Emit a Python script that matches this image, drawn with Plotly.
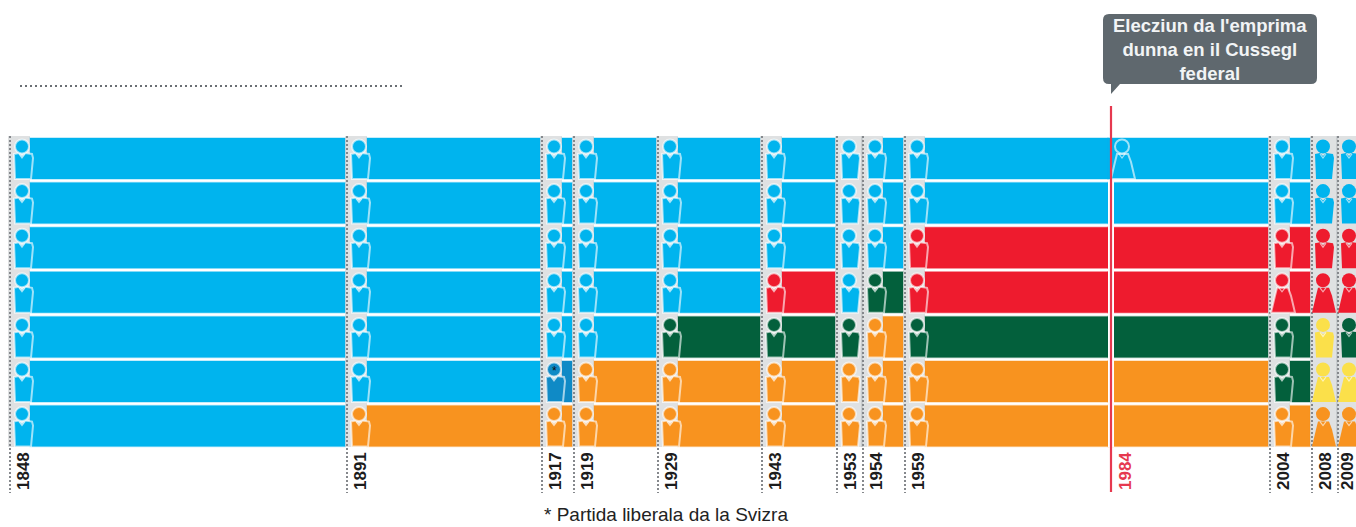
import plotly.graph_objects as go

W, H = 1356, 527

# Elections, and where each one sits on the (non-linear) time axis of the graphic
elections = [1848, 1891, 1917, 1919, 1929, 1943, 1953, 1954, 1959, 1984, 2004, 2008, 2009]
axis_pos = [10, 347, 542, 574, 658, 762, 837, 863, 905, 1108, 1270, 1312, 1338]

# Party of each of the seven seats at each election (seat 0 = top row)
seat_0 = ["PLR"] * 13
seat_1 = ["PLR"] * 13
seat_2 = ["PLR"] * 8 + ["PS"] * 5
seat_3 = ["PLR"] * 5 + ["PS", "PLR", "PES"] + ["PS"] * 5
seat_4 = ["PLR"] * 4 + ["PES", "PES", "PES", "PCD", "PES", "PES", "PES", "PBD", "PES"]
seat_5 = ["PLR", "PLR", "LIB"] + ["PCD"] * 7 + ["PES", "PBD", "PBD"]
seat_6 = ["PLR"] + ["PCD"] * 12
seats = [seat_0, seat_1, seat_2, seat_3, seat_4, seat_5, seat_6]

party_colors = {
    "PLR": "#00b4ee",
    "LIB": "#0f8ac6",
    "PS": "#ee1b2e",
    "PES": "#03603c",
    "PCD": "#f8931f",
    "PBD": "#fbe04a",
}

# (election, seat) of the women drawn in the graphic
women = {(1984, 0), (2004, 3), (2008, 3), (2008, 5), (2008, 6), (2009, 3), (2009, 5), (2009, 6)}
# Only this seat gets a figure at the 1984 break
partial_figures = {1984: [0]}
borderless_years = {2008, 2009}

callout_text = "<b>Elecziun da l'emprima<br>dunna en il Cussegl<br>federal</b>"
footnote_text = "* Partida liberala da la Svizra"

# Row geometry (pixels)
ROW_C0, PITCH, ROW_H = 158.5, 44.6, 41
FONT = "Liberation Sans, Arial"
RED_TEXT = "#e6394f"


def py(p):
    return 1 - p / H


def row_y(row, dy=0.0):
    return row + dy / PITCH


def tint(hex_color, alpha):
    h = hex_color.lstrip("#")
    return f"rgba({int(h[:2], 16)},{int(h[2:4], 16)},{int(h[4:], 16)},{alpha})"


fig = go.Figure()

# Bars: one trace per party
for party, color in party_colors.items():
    ys, bases, widths = [], [], []
    for r, seat in enumerate(seats):
        for i, p in enumerate(seat):
            if p != party:
                continue
            start = axis_pos[i] + (0 if elections[i] == 1984 else 20)
            if i + 1 == len(axis_pos):
                end = W + 5
            elif elections[i + 1] == 1984:
                end = axis_pos[i + 1]
            else:
                end = axis_pos[i + 1] - 2
            if end - start < 6:
                continue
            ys.append(r)
            bases.append(start)
            widths.append(end - start)
    fig.add_trace(go.Bar(
        y=ys, x=widths, base=bases, orientation="h", width=ROW_H / PITCH,
        marker=dict(color=color, line=dict(color=tint(color, 0.3), width=1.5)),
        hoverinfo="skip", showlegend=False, name=party,
    ))

shapes = []

# Grey bands and dotted lines at each election
for i, (year, x) in enumerate(zip(elections, axis_pos)):
    if year == 1984:
        continue
    next_x = axis_pos[i + 1] if i + 1 < len(axis_pos) else W
    band_end = next_x if next_x - x < 30 else x + 20
    shapes.append(dict(type="rect", xref="x", yref="paper", x0=x - 2, x1=band_end,
                       y0=py(136), y1=py(447), fillcolor="rgba(150,155,160,0.3)",
                       line=dict(width=0), layer="above"))
    shapes.append(dict(type="line", xref="x", yref="paper", x0=x, x1=x, y0=py(136), y1=py(493),
                       line=dict(color="#85888c", width=2, dash="2px,2px")))


def person(x, row, color, woman, outlined):
    cx = x + 12
    top = -ROW_H / 2
    if woman:
        pts = [(-5, 16), (6, 16), (9, 24), (13, 41), (-11, 41), (-7, 24)]
    else:
        pts = [(-8, 16), (-3, 15), (0, 18), (3, 15), (10, 16), (11, 20), (9, 41), (-7, 41)]
    path = "M " + " L ".join(f"{cx + a},{row_y(row, top + b)}" for a, b in pts) + " Z"
    edge = dict(color="rgba(255,255,255,0.62)", width=2) if outlined else dict(width=0)
    out = [
        dict(type="path", xref="x", yref="y", path=path, fillcolor=color, line=edge),
        dict(type="circle", xref="x", yref="y", x0=cx - 7, x1=cx + 7,
             y0=row_y(row, top + 1.5), y1=row_y(row, top + 15.5), fillcolor=color, line=edge),
    ]
    vee = (f"M {cx - 3},{row_y(row, top + 16)} L {cx},{row_y(row, top + 20)} "
           f"L {cx + 3},{row_y(row, top + 16)}")
    out.append(dict(type="path", xref="x", yref="y", path=vee,
                    line=dict(color="rgba(255,255,255,0.62)", width=1.2)))
    return out


# Seated figures
for i, (year, x) in enumerate(zip(elections, axis_pos)):
    rows = partial_figures.get(year, range(7))
    offset = 2 if year == 1984 else (-1 if year in borderless_years else 0)
    for r in rows:
        shapes += person(x + offset, r, party_colors[seats[r][i]], (year, r) in women,
                         year not in borderless_years)

# 1984 marker
x84 = axis_pos[elections.index(1984)]
shapes.append(dict(type="rect", xref="x", yref="paper", x0=x84, x1=x84 + 6, y0=py(181),
                   y1=py(447), fillcolor="white", line=dict(width=0)))
shapes.append(dict(type="line", xref="x", yref="paper", x0=x84 + 3, x1=x84 + 3, y0=py(106),
                   y1=py(492), line=dict(color=RED_TEXT, width=2.2)))

# Callout
r = 6
L, R, T, B = 1103, 1317, 14, 84
callout = (f"M {L + r},{py(T)} L {R - r},{py(T)} Q {R},{py(T)} {R},{py(T + r)} "
           f"L {R},{py(B - r)} Q {R},{py(B)} {R - r},{py(B)} "
           f"L 1120,{py(B)} L 1111,{py(94)} L 1111,{py(B)} L {L + r},{py(B)} "
           f"Q {L},{py(B)} {L},{py(B - r)} L {L},{py(T + r)} Q {L},{py(T)} {L + r},{py(T)} Z")
shapes.append(dict(type="path", xref="x", yref="paper", path=callout, fillcolor="#5f686e",
                   line=dict(width=0)))

# Dotted rule at the top left
shapes.append(dict(type="line", xref="x", yref="paper", x0=20, x1=402, y0=py(86), y1=py(86),
                   line=dict(color="#6a6f74", width=2, dash="2px,3px")))

annotations = [
    dict(text=callout_text, xref="x", yref="paper", x=1210, y=py(49), showarrow=False,
         xanchor="center", yanchor="middle", align="center",
         font=dict(family=FONT, size=18.5, color="#f2f4f5")),
    dict(text=footnote_text, xref="x", yref="paper", x=542, y=py(514), showarrow=False,
         xanchor="left", yanchor="middle", font=dict(family=FONT, size=19, color="#222222")),
    dict(text="*", xref="x", yref="y", x=axis_pos[elections.index(1917)] + 12, y=row_y(5, -11),
         showarrow=False, font=dict(family="Liberation Sans", size=12, color="#111111")),
]

# Year labels
label_shift = {1984: 17, 2009: 9}
for y, x in zip(elections, axis_pos):
    annotations.append(dict(
        text=f"<b>{y}</b>", xref="x", yref="paper", x=x + label_shift.get(y, 13), y=py(471),
        textangle=-90, showarrow=False, xanchor="center", yanchor="middle",
        font=dict(family=FONT, size=17, color=RED_TEXT if y == 1984 else "#1c1c1c"),
    ))

fig.update_layout(
    width=W, height=H, margin=dict(l=0, r=0, t=0, b=0),
    paper_bgcolor="white", plot_bgcolor="white", barmode="overlay",
    shapes=shapes, annotations=annotations, showlegend=False,
    xaxis=dict(range=[0, W], showticklabels=False, showgrid=False, zeroline=False,
               showline=False, ticks="", fixedrange=True),
    yaxis=dict(range=[(H - ROW_C0) / PITCH, -ROW_C0 / PITCH], visible=False, fixedrange=True),
)

fig.write_html("out.html", config={"displayModeBar": False},
               post_script="document.body.style.margin='0';document.body.style.overflow='hidden';")
